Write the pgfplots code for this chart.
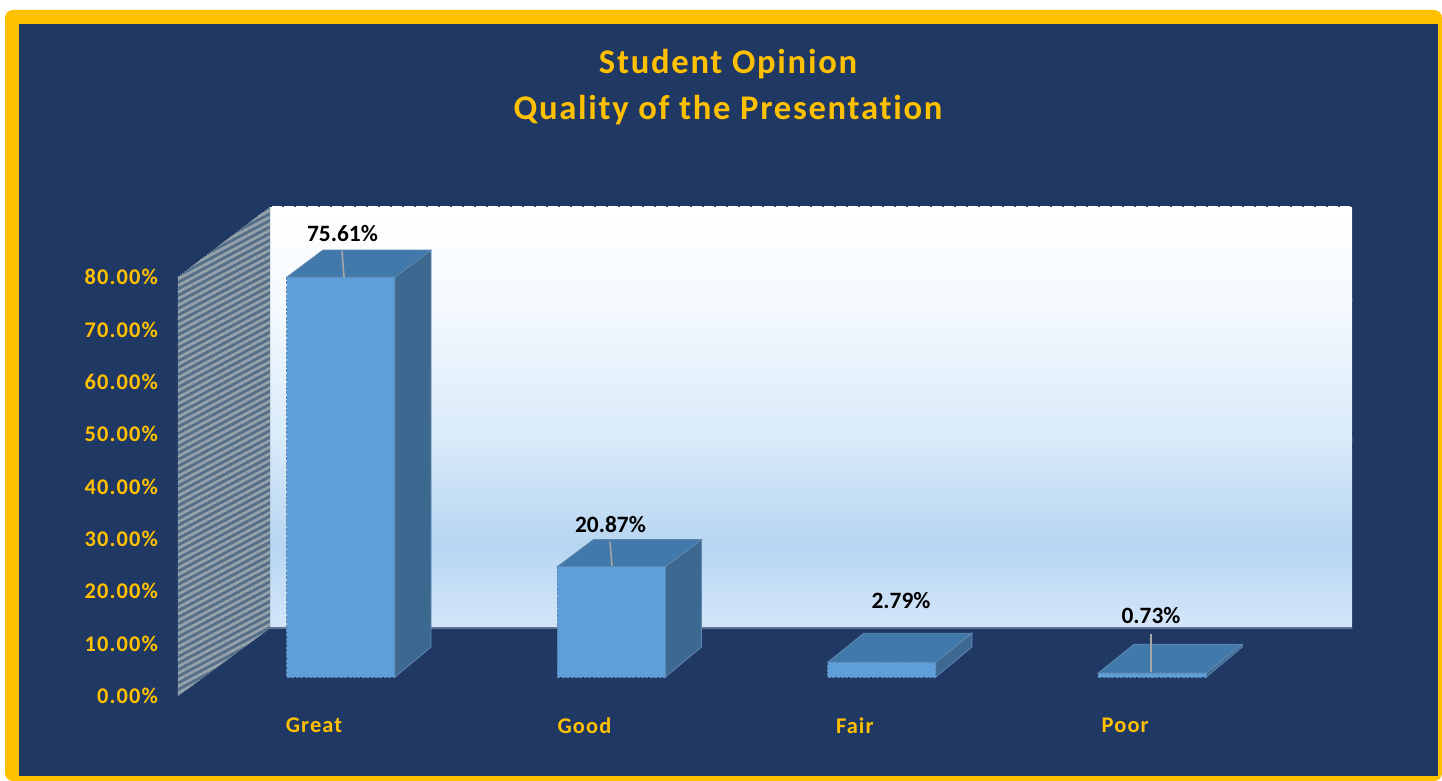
\documentclass[border=0pt]{standalone}
\usepackage{fontspec}
\usepackage{pgfplots}
\pgfplotsset{compat=1.18}
\usetikzlibrary{patterns.meta}
\setmainfont[Ligatures=NoCommon]{Carlito}
\newfontfamily\spaced[LetterSpace=5,Ligatures=NoCommon]{Carlito}
\definecolor{navy}{HTML}{203864}
\definecolor{gold}{HTML}{FFC000}
\definecolor{barfront}{HTML}{5E9EDB}
\definecolor{bartop}{HTML}{4279AB}
\definecolor{barside}{HTML}{3D6890}
\definecolor{baredge}{HTML}{5F88B0}
\definecolor{wallA}{HTML}{F5FAFE}
\definecolor{wallB}{HTML}{D9EAF9}
\definecolor{wallC}{HTML}{B7D6F1}
\definecolor{wallD}{HTML}{D4E6FA}
\definecolor{stripe}{HTML}{96A3AA}
\definecolor{stripebg}{HTML}{566F88}
\begin{document}
\begin{tikzpicture}[x=0.5pt,y=-0.5pt]
% page, frame
\fill[white] (0,0) rectangle (1442,781);
\fill[gold,rounded corners=4pt] (5,10) rectangle (1442,781);
\fill[navy] (19,24) rectangle (1438,776);
% title
\node[gold,font=\spaced\bfseries\fontsize{17.3}{20}\selectfont] at (728,64) {Student Opinion};
\node[gold,font=\spaced\bfseries\fontsize{17.3}{20}\selectfont] at (728,110) {Quality of the Presentation};
% back wall
\shade[top color=white,bottom color=wallA] (270,207) rectangle (1352,300);
\shade[top color=wallA,bottom color=wallB] (270,299.5) rectangle (1352,440);
\shade[top color=wallB,bottom color=wallC] (270,439.5) rectangle (1352,545);
\shade[top color=wallC,bottom color=wallD] (270,544.5) rectangle (1352,628);
\draw[navy!70!white,line width=0.6pt] (270,628) -- (1352,628);
% jagged edges of the wall
\draw[navy,line width=1pt,dash pattern=on 1pt off 5pt] (270,206.5) -- (1352,206.5);
\draw[navy,line width=1pt,dash pattern=on 1pt off 7pt] (1352.5,207) -- (1352.5,628);
% left wall
\fill[stripebg] (178,277) -- (270,207) -- (270,628) -- (178,696) -- cycle;
\fill[pattern={Lines[angle=28,distance=2.9pt,line width=1.35pt]},pattern color=stripe]
  (178,277) -- (270,207) -- (270,628) -- (178,696) -- cycle;
\draw[stripe,line width=0.4pt,densely dotted]
  (178,277) -- (270,207) (178,277) -- (178,696) -- (270,628);
% value axis
\begin{axis}[
  at={(89pt,-348pt)},anchor=south west,
  width=587pt,height=244.5pt,scale only axis,
  xmin=0,xmax=1,ymin=0,ymax=93.37,
  axis line style={draw=none},tick style={draw=none},
  xtick=\empty,
  ytick={0,10,20,30,40,50,60,70,80},
  yticklabel={\pgfmathprintnumber[fixed,fixed zerofill,precision=2,assume math mode=true]{\tick}\%},
  yticklabel style={gold,font=\spaced\bfseries\fontsize{11.2}{13}\selectfont,xshift=-6.5pt},
]
\end{axis}
% bars
\begin{axis}[
  at={(89pt,-348pt)},anchor=south west,
  width=587pt,height=244.5pt,scale only axis,clip=false,
  xmin=-0.6028,xmax=3.739,ymin=-3.592,ymax=88.85,
  axis line style={draw=none},tick style={draw=none},
  ytick=\empty,
  xtick={0,1,2,3},
  xticklabels={Great,Good,Fair,Poor},
  xticklabel style={gold,font=\spaced\bfseries\fontsize{11.2}{13}\selectfont,xshift=-13.5pt,yshift=-7.5pt},
]
\addplot[fill=barside,draw=baredge,line width=0.4pt] coordinates {(0.1997,0) (0.3331,5.67) (0.3331,80.71) (0.1997,75.61)} -- cycle;
\addplot[fill=bartop,draw=baredge,line width=0.4pt] coordinates {(-0.1997,75.61) (-0.0666,80.71) (0.3331,80.71) (0.1997,75.61)} -- cycle;
\addplot[fill=barside,draw=baredge,line width=0.4pt] coordinates {(1.1997,0) (1.3331,5.67) (1.3331,25.97) (1.1997,20.87)} -- cycle;
\addplot[fill=bartop,draw=baredge,line width=0.4pt] coordinates {(0.8003,20.87) (0.9334,25.97) (1.3331,25.97) (1.1997,20.87)} -- cycle;
\addplot[fill=barside,draw=baredge,line width=0.4pt] coordinates {(2.1997,0) (2.3331,5.67) (2.3331,8.27) (2.1997,2.79)} -- cycle;
\addplot[fill=bartop,draw=baredge,line width=0.4pt] coordinates {(1.8003,2.79) (1.9334,8.27) (2.3331,8.27) (2.1997,2.79)} -- cycle;
\addplot[fill=barside,draw=baredge,line width=0.4pt] coordinates {(3.1997,0) (3.3331,5.67) (3.3331,6.21) (3.1997,0.73)} -- cycle;
\addplot[fill=bartop,draw=baredge,line width=0.4pt] coordinates {(2.8003,0.73) (2.9334,6.21) (3.3331,6.21) (3.1997,0.73)} -- cycle;
\addplot[ybar,bar width=54pt,bar shift=0pt,fill=barfront,draw=baredge,line width=0.5pt,dash pattern=on 1.5pt off 0.7pt]
  coordinates {(0,75.61) (1,20.87) (2,2.79) (3,0.73)};
\end{axis}
% leader lines and value labels
\draw[black!35,line width=0.8pt] (342,251) -- (344,277);
\draw[black!35,line width=0.8pt] (610,542) -- (612,566);
\draw[black!35,line width=0.8pt] (1151,634) -- (1151,672);
\node[font=\bfseries\fontsize{11.7}{14}\selectfont] at (342.5,234) {75.61\%};
\node[font=\bfseries\fontsize{11.7}{14}\selectfont] at (610.5,525) {20.87\%};
\node[font=\bfseries\fontsize{11.7}{14}\selectfont] at (901,601) {2.79\%};
\node[font=\bfseries\fontsize{11.7}{14}\selectfont] at (1151,616) {0.73\%};
\end{tikzpicture}
\end{document}
